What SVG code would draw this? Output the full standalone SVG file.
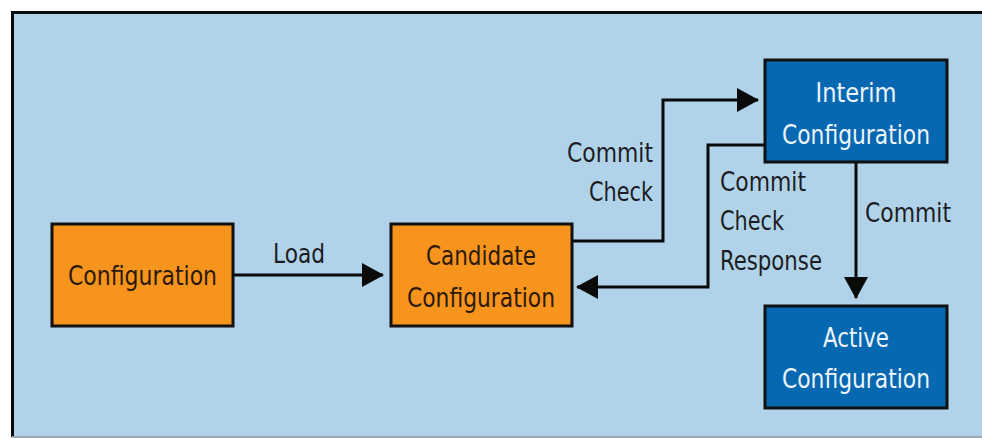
<svg xmlns="http://www.w3.org/2000/svg" width="982" height="438" viewBox="0 0 982 438">
<style>
.lbl{font-family:"DejaVu Sans Condensed","Liberation Sans",sans-serif;font-size:26px;fill:#1c1c22}
.on-orange{fill:#2b1a08;text-anchor:middle}
.on-blue{fill:#eef5fc;text-anchor:middle}
.orange{fill:#F7941D;stroke:#111;stroke-width:3}
.blue{fill:#0768B2;stroke:#111;stroke-width:3}
.conn{fill:none;stroke:#0a0a0a;stroke-width:3}
</style>
<defs>
<marker id="ah" markerUnits="userSpaceOnUse" markerWidth="22" markerHeight="24" refX="21" refY="12" orient="auto">
<path d="M0,0 L22,12 L0,24 Z" fill="#0a0a0a"/>
</marker>
</defs>
<rect width="982" height="438" fill="#ffffff"/>
<rect x="12" y="12" width="990" height="424" fill="#B1D3EA"/>
<path d="M12.5,437 V12.5 H982" fill="none" stroke="#0a0a0a" stroke-width="3"/>
<line x1="12" y1="437" x2="982" y2="437" stroke="#9aa8b3" stroke-width="2"/>
<g id="connectors">
<line class="conn" x1="233" y1="275" x2="383" y2="275" marker-end="url(#ah)"/>
<path class="conn" d="M572,241 H663 V100 H758" marker-end="url(#ah)"/>
<path class="conn" d="M765,145 H708 V287 H577" marker-end="url(#ah)"/>
<line class="conn" x1="856" y1="162" x2="856" y2="298" marker-end="url(#ah)"/>
<text class="lbl" x="273" y="263" textLength="52" lengthAdjust="spacingAndGlyphs">Load</text>
<text class="lbl" x="567" y="162" textLength="86" lengthAdjust="spacingAndGlyphs">Commit</text>
<text class="lbl" x="589" y="201" textLength="64" lengthAdjust="spacingAndGlyphs">Check</text>
<text class="lbl" x="720" y="191" textLength="86" lengthAdjust="spacingAndGlyphs">Commit</text>
<text class="lbl" x="720" y="230" textLength="64" lengthAdjust="spacingAndGlyphs">Check</text>
<text class="lbl" x="720" y="270" textLength="102" lengthAdjust="spacingAndGlyphs">Response</text>
<text class="lbl" x="865" y="222" textLength="86" lengthAdjust="spacingAndGlyphs">Commit</text>
</g>
<g id="configuration">
<rect class="orange" x="52" y="224" width="181" height="102"/>
<text class="lbl on-orange" x="142.5" y="285" textLength="149" lengthAdjust="spacingAndGlyphs">Configuration</text>
</g>
<g id="candidate">
<rect class="orange" x="391" y="224" width="181" height="102"/>
<text class="lbl on-orange" x="481" y="265" textLength="110" lengthAdjust="spacingAndGlyphs">Candidate</text>
<text class="lbl on-orange" x="481" y="307" textLength="148" lengthAdjust="spacingAndGlyphs">Configuration</text>
</g>
<g id="interim">
<rect class="blue" x="765" y="60" width="182" height="102"/>
<text class="lbl on-blue" x="856" y="102" textLength="81" lengthAdjust="spacingAndGlyphs">Interim</text>
<text class="lbl on-blue" x="856" y="144" textLength="148" lengthAdjust="spacingAndGlyphs">Configuration</text>
</g>
<g id="active">
<rect class="blue" x="765" y="306" width="182" height="102"/>
<text class="lbl on-blue" x="856" y="347" textLength="66" lengthAdjust="spacingAndGlyphs">Active</text>
<text class="lbl on-blue" x="856" y="388" textLength="148" lengthAdjust="spacingAndGlyphs">Configuration</text>
</g>
</svg>
